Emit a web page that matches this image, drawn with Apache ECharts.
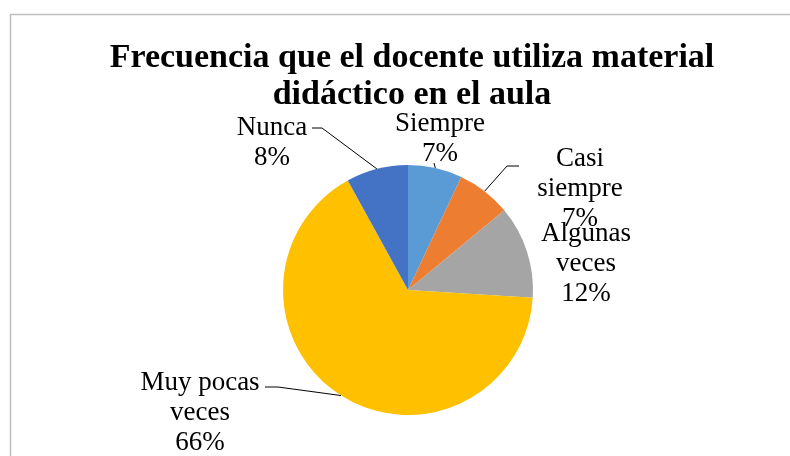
<!DOCTYPE html>
<html>
<head>
<meta charset="utf-8">
<script src="https://cdn.jsdelivr.net/npm/echarts@6/dist/echarts.min.js"></script>
<style>
  html, body { margin: 0; padding: 0; background: #fff; }
  #chart { width: 790px; height: 456px; }
</style>
</head>
<body>
<div id="chart"></div>
<script>
// Frecuencia de uso de material didáctico (porcentaje)
const categories = ['Siempre', 'Casi siempre', 'Algunas veces', 'Muy pocas veces', 'Nunca'];
const values = [7, 7, 12, 66, 8];
const labelTexts = ['Siempre\n7%', 'Casi\nsiempre\n7%', 'Algunas\nveces\n12%', 'Muy pocas\nveces\n66%', 'Nunca\n8%'];
const colors = ['#5B9BD5', '#ED7D31', '#A5A5A5', '#FFC000', '#4472C4'];

// label block centres, laid out around the pie
const labelSpots = [[440, 139], [580, 189], [586, 264], [200, 413], [272, 143]];
// leader line: elbow and end, as offsets from the label centre (null = straight to label)
const leaderEnds = [
  [[-6, 24], [-6, 24]],
  [[-73, -23], [-61, -23]],
  null,
  [[78, -26], [65, -26]],
  [[50, -15], [40, -15]]
];

const fontFamily = 'Liberation Serif, DejaVu Serif, serif';

const chart = echarts.init(document.getElementById('chart'));
chart.setOption({
  animation: false,
  title: {
    text: 'Frecuencia que el docente utiliza material\ndidáctico en el aula',
    left: 407,
    textAlign: 'center',
    top: 35,
    textStyle: {
      fontFamily: fontFamily,
      fontWeight: 'bold',
      fontSize: 34,
      lineHeight: 37,
      color: '#000'
    }
  },
  graphic: [{
    type: 'rect',
    shape: { x: 10.5, y: 14.5, width: 900, height: 600 },
    style: { fill: 'none', stroke: '#bfbfbf', lineWidth: 1.5 },
    silent: true
  }],
  series: [{
    type: 'pie',
    center: [408, 290],
    radius: 125,
    startAngle: 90,
    clockwise: true,
    data: categories.map((c, i) => ({
      name: c,
      value: values[i],
      itemStyle: { color: colors[i] },
      label: { formatter: labelTexts[i] },
      labelLine: { show: i !== 2 }
    })),
    label: {
      show: true,
      position: 'outside',
      fontFamily: fontFamily,
      fontSize: 27,
      lineHeight: 30,
      color: '#000',
      align: 'center'
    },
    labelLine: {
      show: true,
      length: 10,
      length2: 10,
      lineStyle: { color: '#000', width: 1 }
    },
    labelLayout: function (params) {
      const i = params.dataIndex;
      const p = labelSpots[i];
      const out = { x: p[0], y: p[1], align: 'center', verticalAlign: 'middle' };
      const ends = leaderEnds[i];
      if (ends && params.labelLinePoints) {
        const start = params.labelLinePoints[0];
        out.labelLinePoints = [
          [start[0], start[1]],
          [p[0] + ends[0][0], p[1] + ends[0][1]],
          [p[0] + ends[1][0], p[1] + ends[1][1]]
        ];
      }
      return out;
    }
  }]
});
</script>
</body>
</html>
